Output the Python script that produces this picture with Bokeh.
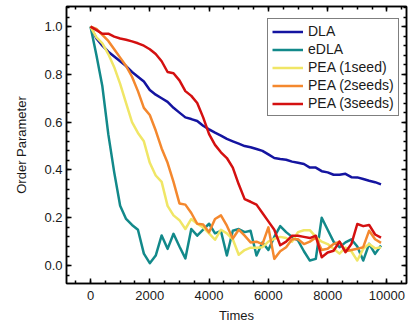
from bokeh.plotting import figure
from bokeh.models import (Range1d, LinearAxis, SingleIntervalTicker, PrintfTickFormatter,
                          Legend, LegendItem, ColumnDataSource, CustomJSTickFormatter)
from bokeh.embed import file_html
from bokeh.resources import INLINE

times = [200 * i for i in range(50)]

dla = [1.0, 0.95, 0.92, 0.895, 0.875, 0.855, 0.835, 0.81, 0.79, 0.77,
       0.735, 0.715, 0.70, 0.685, 0.66, 0.64, 0.62, 0.613, 0.605, 0.585,
       0.57, 0.556, 0.544, 0.53, 0.52, 0.51, 0.50, 0.495, 0.488, 0.48,
       0.465, 0.45, 0.446, 0.443, 0.435, 0.43, 0.425, 0.41, 0.41, 0.395,
       0.39, 0.38, 0.38, 0.384, 0.37, 0.369, 0.362, 0.355, 0.349, 0.34]

edla = [1.0, 0.88, 0.75, 0.55, 0.39, 0.25, 0.195, 0.17, 0.15, 0.05,
        0.01, 0.042, 0.126, 0.07, 0.133, 0.08, 0.03, 0.153, 0.125, 0.15,
        0.175, 0.135, 0.145, 0.042, 0.146, 0.153, 0.14, 0.146, 0.042, 0.097,
        0.065, 0.12, 0.165, 0.14, 0.12, 0.105, 0.06, 0.021, 0.028, 0.2,
        0.15, 0.1, 0.077, 0.097, 0.11, 0.08, 0.021, 0.091, 0.049, 0.084]

pea1 = [1.0, 0.955, 0.93, 0.885, 0.83, 0.76, 0.68, 0.6, 0.555, 0.52,
        0.43, 0.377, 0.35, 0.25, 0.21, 0.19, 0.153, 0.195, 0.175, 0.16,
        0.135, 0.108, 0.15, 0.135, 0.11, 0.045, 0.065, 0.075, 0.075, 0.077,
        0.1, 0.112, 0.12, 0.115, 0.1, 0.14, 0.148, 0.148, 0.12, 0.1,
        0.09, 0.07, 0.05, 0.075, 0.06, 0.021, 0.07, 0.09, 0.072, 0.077]

pea2 = [1.0, 0.99, 0.965, 0.94, 0.905, 0.87, 0.835, 0.79, 0.73, 0.66,
        0.63, 0.565, 0.49, 0.43, 0.35, 0.26, 0.255, 0.22, 0.175, 0.172,
        0.139, 0.195, 0.21, 0.167, 0.113, 0.15, 0.125, 0.097, 0.1, 0.09,
        0.16, 0.028, 0.06, 0.077, 0.11, 0.11, 0.09, 0.1, 0.118, 0.065,
        0.07, 0.09, 0.1, 0.06, 0.065, 0.07, 0.077, 0.146, 0.11, 0.095]

pea3 = [1.0, 0.985, 0.97, 0.97, 0.958, 0.95, 0.945, 0.938, 0.93, 0.92,
        0.905, 0.885, 0.855, 0.81, 0.805, 0.775, 0.73, 0.71, 0.68, 0.62,
        0.55, 0.505, 0.474, 0.45, 0.41, 0.34, 0.278, 0.267, 0.255, 0.22,
        0.185, 0.15, 0.085, 0.1, 0.125, 0.125, 0.12, 0.115, 0.125, 0.035,
        0.055, 0.062, 0.1, 0.056, 0.09, 0.174, 0.165, 0.17, 0.13, 0.117]

series_names = ["DLA", "eDLA", "PEA (1seed)", "PEA (2seeds)", "PEA (3seeds)"]
series_values = [dla, edla, pea1, pea2, pea3]
series_colors = ["#1414a0", "#12898a", "#f0e666", "#f4882e", "#d41010"]

FONT = "Liberation Sans"

p = figure(width=409, height=325, output_backend="svg", toolbar_location=None,
           x_range=Range1d(-810, 10660), y_range=Range1d(-0.075, 1.084),
           min_border_left=66, min_border_right=3, min_border_top=6, min_border_bottom=42)
p.xgrid.visible = False
p.ygrid.visible = False
p.outline_line_color = "black"
p.outline_line_width = 1.5
p.background_fill_color = "white"
p.border_fill_color = "white"

xt = SingleIntervalTicker(interval=2000, num_minor_ticks=4)
yt = SingleIntervalTicker(interval=0.2, num_minor_ticks=5)

def style_axis(ax, labels=True):
    ax.axis_line_color = "black"
    ax.axis_line_width = 1.5
    ax.major_tick_line_color = "black"
    ax.minor_tick_line_color = "black"
    ax.major_tick_line_width = 1.5
    ax.minor_tick_line_width = 1.5
    ax.major_tick_in = 5
    ax.major_tick_out = 0
    ax.minor_tick_in = 3
    ax.minor_tick_out = 0
    if labels:
        ax.major_label_text_font = FONT
        ax.major_label_text_font_size = "13px"
        ax.major_label_text_color = "#1a1a1a"
        ax.axis_label_text_font = FONT
        ax.axis_label_text_font_size = "13px"
        ax.axis_label_text_font_style = "normal"
        ax.axis_label_text_color = "#1a1a1a"
    else:
        ax.formatter = CustomJSTickFormatter(code="return '';")
        ax.major_label_text_font_size = "0px"
        ax.major_label_standoff = 0
        ax.axis_label_standoff = 0

xa = p.xaxis[0]
xa.ticker = xt
xa.axis_label = "Times"
xa.major_label_standoff = 7
xa.axis_label_standoff = 5
style_axis(xa)

ya = p.yaxis[0]
ya.ticker = yt
ya.formatter = PrintfTickFormatter(format="%.1f")
ya.axis_label = "Order Parameter"
ya.major_label_standoff = 4
ya.axis_label_standoff = 12
style_axis(ya)

top_ax = LinearAxis(ticker=SingleIntervalTicker(interval=2000, num_minor_ticks=4))
style_axis(top_ax, labels=False)
p.add_layout(top_ax, "above")
right_ax = LinearAxis(ticker=SingleIntervalTicker(interval=0.2, num_minor_ticks=5))
style_axis(right_ax, labels=False)
p.add_layout(right_ax, "right")

items = []
for name, vals, col in zip(series_names, series_values, series_colors):
    src = ColumnDataSource(dict(x=times, y=vals))
    r = p.line("x", "y", source=src, line_color=col, line_width=2.5, line_join="round")
    items.append(LegendItem(label=name, renderers=[r]))

legend = Legend(items=items, location=(201, 167))
legend.label_text_font = FONT
legend.label_text_font_size = "14px"
legend.label_text_color = "#1a1a1a"
legend.border_line_color = "black"
legend.border_line_width = 1
legend.background_fill_color = "white"
legend.background_fill_alpha = 1.0
legend.padding = 4
legend.spacing = 2
legend.margin = 0
legend.glyph_width = 31
legend.glyph_height = 15
legend.label_height = 15
legend.label_standoff = 5
p.add_layout(legend)

open("out.html", "w").write(file_html(p, INLINE))
